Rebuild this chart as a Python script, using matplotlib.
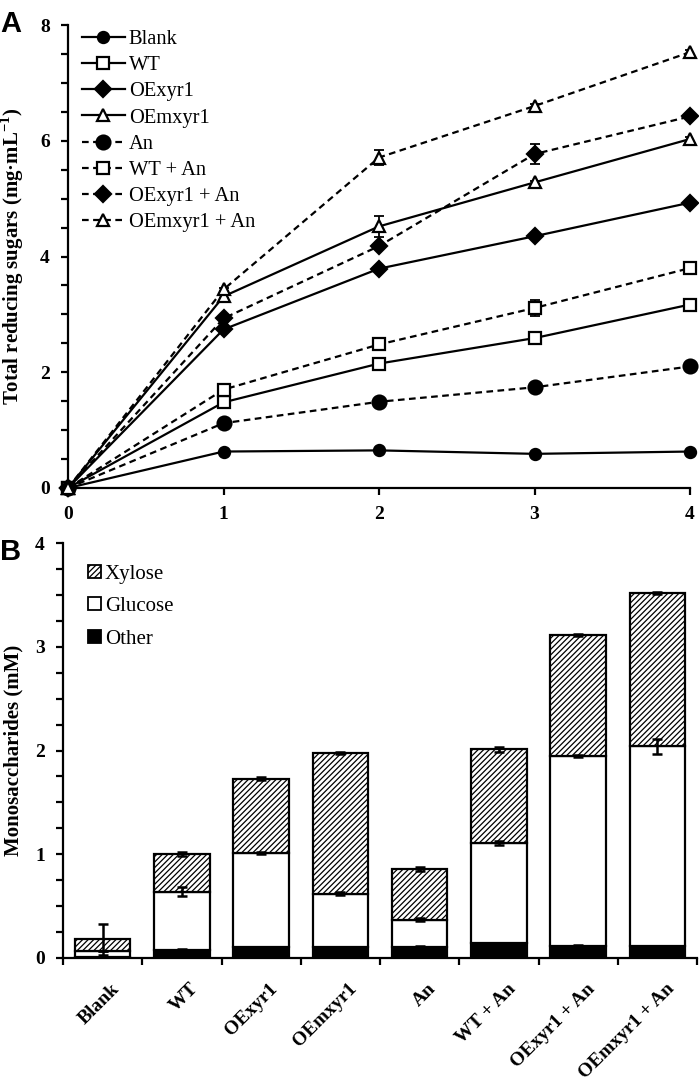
import numpy as np
import matplotlib.pyplot as plt
import matplotlib.transforms as mtransforms
from matplotlib.patches import Patch
from matplotlib.ticker import MultipleLocator

plt.rcParams['font.family'] = ['Liberation Serif', 'DejaVu Serif']
plt.rcParams['mathtext.fontset'] = 'custom'
plt.rcParams['mathtext.rm'] = 'Liberation Serif'
plt.rcParams['mathtext.bf'] = 'Liberation Serif:bold'
plt.rcParams['hatch.linewidth'] = 0.9

# panel A: total reducing sugars over time (days)
days = [0, 1, 2, 3, 4]
series = ['Blank', 'WT', 'OExyr1', 'OEmxyr1',
          'An', 'WT + An', 'OExyr1 + An', 'OEmxyr1 + An']
blank = [0, 0.63, 0.65, 0.59, 0.63]
wt = [0, 1.48, 2.15, 2.59, 3.17]
oexyr1 = [0, 2.74, 3.79, 4.35, 4.93]
oemxyr1 = [0, 3.31, 4.52, 5.28, 6.03]
an = [0, 1.12, 1.49, 1.74, 2.10]
wt_an = [0, 1.70, 2.48, 3.11, 3.80]
oexyr1_an = [0, 2.93, 4.18, 5.77, 6.42]
oemxyr1_an = [0, 3.43, 5.71, 6.60, 7.53]
blank_err = [0, 0.02, 0.02, 0.02, 0.02]
wt_err = [0, 0.03, 0.03, 0.03, 0.03]
oexyr1_err = [0, 0.03, 0.03, 0.03, 0.04]
oemxyr1_err = [0, 0.03, 0.18, 0.03, 0.04]
an_err = [0, 0.02, 0.02, 0.03, 0.03]
wt_an_err = [0, 0.03, 0.03, 0.14, 0.06]
oexyr1_an_err = [0, 0.03, 0.04, 0.17, 0.04]
oemxyr1_an_err = [0, 0.03, 0.13, 0.04, 0.04]

# panel B: monosaccharides (mM)
groups = series
other = [0.01, 0.08, 0.11, 0.11, 0.11, 0.14, 0.115, 0.12]
glucose = [0.06, 0.56, 0.90, 0.51, 0.26, 0.97, 1.835, 1.92]
xylose = [0.11, 0.365, 0.72, 1.355, 0.485, 0.90, 1.16, 1.48]
other_err = [0.0, 0.01, 0.0, 0.0, 0.01, 0.0, 0.01, 0.0]
glucose_err = [0.0, 0.04, 0.01, 0.015, 0.015, 0.02, 0.01, 0.07]
total_err = [0.15, 0.02, 0.015, 0.01, 0.02, 0.02, 0.01, 0.01]

fig = plt.figure(figsize=(6.99, 10.85), dpi=100)
axA = fig.add_axes([68 / 699, 1 - 488 / 1085, 622 / 699, 463 / 1085])
axB = fig.add_axes([63 / 699, 1 - 958 / 1085, 634 / 699, 415 / 1085])

ys = [blank, wt, oexyr1, oemxyr1, an, wt_an, oexyr1_an, oemxyr1_an]
errs = [blank_err, wt_err, oexyr1_err, oemxyr1_err,
        an_err, wt_an_err, oexyr1_an_err, oemxyr1_an_err]
markers = ['o', 's', 'D', '^'] * 2
msizes = [8, 9, 8, 9, 10, 9, 8, 9]
handles = []
for i, (name, y, e) in enumerate(zip(series, ys, errs)):
    ls = '-' if i < 4 else (0, (3, 2))
    face = 'black' if markers[i] in ('o', 'D') else 'white'
    axA.errorbar(days, y, yerr=e, fmt='none', ecolor='black',
                 elinewidth=1.3, capsize=3.5, capthick=1.3, zorder=2)
    ln, = axA.plot(days, y, linestyle=ls, color='black', lw=1.6,
                   marker=markers[i], ms=msizes[i], mfc=face, mec='black',
                   mew=1.6, clip_on=False, zorder=3, label=name)
    handles.append(ln)

axA.set_xlim(0, 4)
axA.set_ylim(0, 8)
axA.xaxis.set_major_locator(MultipleLocator(1))
axA.yaxis.set_major_locator(MultipleLocator(2))
axA.yaxis.set_minor_locator(MultipleLocator(0.5))
axA.set_ylabel(r'Total reducing sugars (mg·mL$^{\mathbf{-1}}$)',
               fontsize=15, fontweight='bold')
axA.yaxis.set_label_coords(-0.068, 0.5)
axA.legend(handles=handles, loc='upper left', frameon=False,
           bbox_to_anchor=(0.022, 0.99), borderaxespad=0, borderpad=0,
           fontsize=14.8, handlelength=2.1, handletextpad=0.2,
           labelspacing=0.33)

# stacked bars
x = np.arange(len(groups))
bot_g = np.array(other)
bot_x = bot_g + np.array(glucose)
top = bot_x + np.array(xylose)
w = 0.7
axB.bar(x, other, w, color='black', edgecolor='black', lw=1.6, zorder=2)
axB.bar(x, glucose, w, bottom=bot_g, color='white', edgecolor='black',
        lw=1.6, zorder=2)
axB.bar(x, xylose, w, bottom=bot_x, color='white', edgecolor='black',
        hatch='//////', lw=1.6, zorder=2)
for yy, ee in [(bot_g, other_err), (bot_x, glucose_err), (top, total_err)]:
    axB.errorbar(x, yy, yerr=ee, fmt='none', ecolor='black',
                 elinewidth=1.8, capsize=3.5, capthick=1.8, zorder=3)

axB.set_xlim(-0.5, len(groups) - 0.5)
axB.set_ylim(0, 4)
axB.yaxis.set_major_locator(MultipleLocator(1))
axB.yaxis.set_minor_locator(MultipleLocator(0.25))
axB.set_xticks(np.arange(len(groups) + 1) - 0.5)
axB.set_xticklabels([])
axB.set_xticks(x, minor=True)
axB.set_xticklabels(groups, minor=True, rotation=45, ha='right',
                    fontsize=14, fontweight='bold')
axB.set_ylabel('Monosaccharides (mM)', fontsize=15, fontweight='bold')
axB.yaxis.set_label_coords(-0.062, 0.5)
leg_h = [Patch(facecolor='white', edgecolor='black', hatch='//////', lw=1.3),
         Patch(facecolor='white', edgecolor='black', lw=1.3),
         Patch(facecolor='black', edgecolor='black', lw=1.3)]
axB.legend(leg_h, ['Xylose', 'Glucose', 'Other'], loc='upper left',
           frameon=False, bbox_to_anchor=(0.04, 0.948), borderaxespad=0,
           borderpad=0, fontsize=15, handlelength=0.6, handleheight=0.6,
           handletextpad=0.2, labelspacing=0.65)

for ax in (axA, axB):
    for s in ('top', 'right'):
        ax.spines[s].set_visible(False)
    for s in ('left', 'bottom'):
        ax.spines[s].set_linewidth(1.6)
    ax.tick_params(which='major', direction='out', length=5, width=1.6,
                   labelsize=14, pad=8)
    ax.tick_params(which='minor', axis='y', direction='out', length=5,
                   width=1.6)
    for lab in ax.get_yticklabels() + ax.get_xticklabels():
        lab.set_fontweight('bold')

axB.tick_params(axis='x', which='minor', length=0, pad=16)
shift = mtransforms.ScaledTranslation(20 / 100, 0, fig.dpi_scale_trans)
for lab in axB.get_xticklabels(minor=True):
    lab.set_transform(lab.get_transform() + shift)

fig.text(0.0, 1 - 32 / 1085, 'A', fontsize=21, fontweight='bold',
         family='Liberation Sans')
fig.text(0.0, 1 - 560 / 1085, 'B', fontsize=21, fontweight='bold',
         family='Liberation Sans')

plt.savefig('out.png', dpi=100)
